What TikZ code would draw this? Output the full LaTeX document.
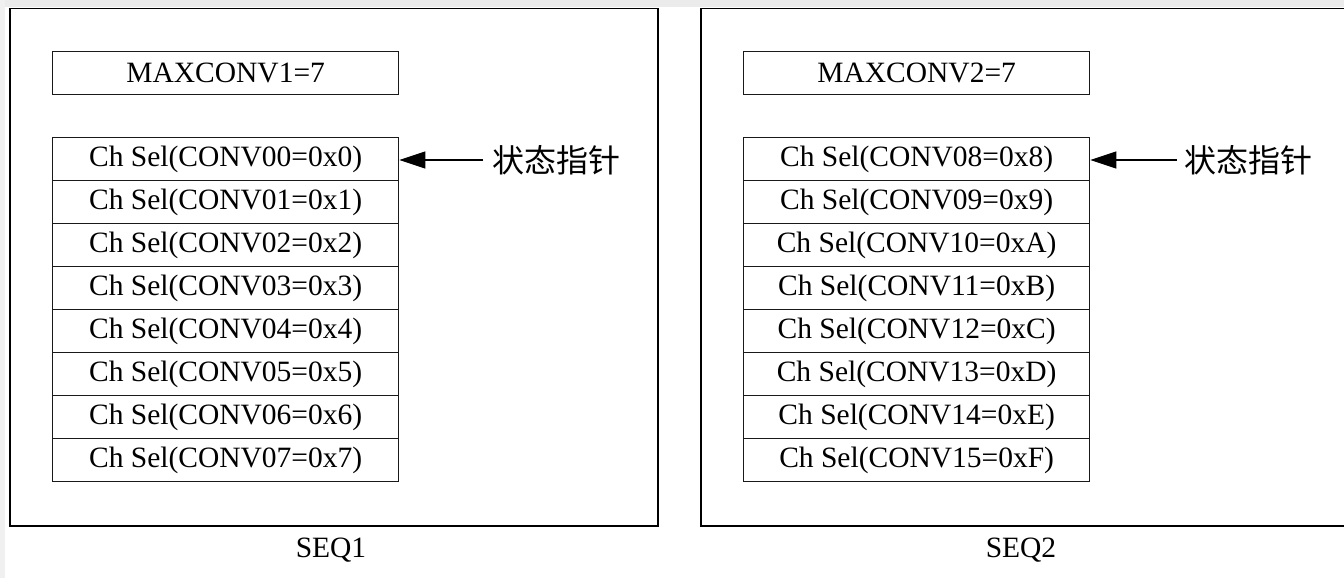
\documentclass[tikz,border=0pt]{standalone}
\usepackage{fontspec}
\setmainfont{Liberation Serif}
\newfontfamily\cjk{Noto Sans CJK SC}
\usetikzlibrary{arrows.meta}
\tikzset{
  x=1pt, y=-1pt,
  seqbox/.style={draw=black, line width=1.5pt, inner sep=0pt, anchor=north west},
  cell/.style={draw=black!90, line width=1.3pt, inner sep=0pt, anchor=north west,
    minimum width=346pt, minimum height=43pt, font=\fontsize{29.5}{34}\selectfont},
  ptr/.style={line width=1.2pt, -{Triangle[length=26pt,width=17pt]}},
  cjklabel/.style={font=\cjk\fontsize{32}{36}\selectfont, anchor=west, inner sep=0pt},
  seqlabel/.style={font=\fontsize{29.5}{34}\selectfont, inner sep=0pt}
}
\begin{document}
\begin{tikzpicture}
\useasboundingbox (0,0) rectangle (1344,578);
\fill[white] (0,0) rectangle (1344,578);
\fill[black!8] (0,0) rectangle (1344,7);
\fill[black!6] (0,0) rectangle (5,578);
% outer boxes
\node[seqbox, minimum width=648pt, minimum height=517pt] (box1) at (9,8) {};
\node[seqbox, minimum width=660pt, minimum height=517pt] (box2) at (700,8) {};
\node[seqlabel] (seq1) at (331,550) {SEQ1};
\node[seqlabel] (seq2) at (1021,550) {SEQ2};
% MAXCONV
\node[cell] (max1) at (52,51) {MAXCONV1=7};
\node[cell] (max2) at (743,51) {MAXCONV2=7};
% rows
\foreach \i/\a/\b in {0/00/0,1/01/1,2/02/2,3/03/3,4/04/4,5/05/5,6/06/6,7/07/7}{
  \node[cell] (l\i) at (52,137+43*\i) {Ch Sel(CONV\a=0x\b)};
}
\foreach \i/\a/\b in {0/08/8,1/09/9,2/10/A,3/11/B,4/12/C,5/13/D,6/14/E,7/15/F}{
  \node[cell] (r\i) at (743,137+43*\i) {Ch Sel(CONV\a=0x\b)};
}
% pointers
\node[cjklabel] (p1) at (492,160) {状态指针};
\node[cjklabel] (p2) at (1184,160) {状态指针};
\coordinate (a1) at (483,160);
\coordinate (a2) at (1177,160);
\draw[ptr] (a1) -- (l0.east |- a1);
\draw[ptr] (a2) -- (r0.east |- a2);
\end{tikzpicture}
\end{document}
